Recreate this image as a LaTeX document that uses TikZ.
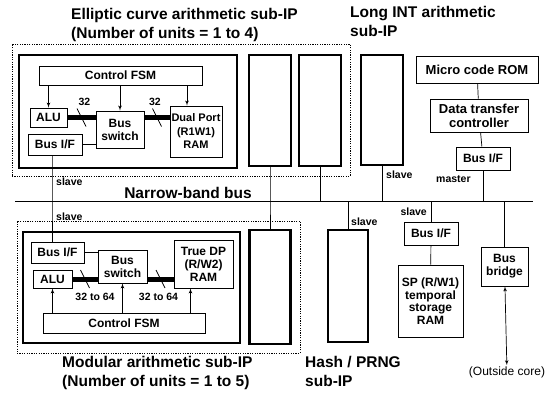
\documentclass[tikz,border=0pt]{standalone}
\usepackage{fontspec}
\setmainfont{Liberation Sans}
\usetikzlibrary{arrows, fit, calc}

\begin{document}
\begin{tikzpicture} [
    x=1pt, y=-1pt,
    font=\bfseries,
    unit/.style={rectangle, draw, line width=2.2pt, inner sep=0pt},
    block/.style={rectangle, draw, line width=0.8pt, fill=white, align=center, inner sep=0pt, font=\fontsize{12}{13}\selectfont\bfseries},
    group/.style={rectangle, draw, dash pattern=on 1.2pt off 1.2pt, line width=0.8pt, inner sep=0pt},
    wire/.style={draw, line width=0.7pt},
    ctl/.style={draw, -latex', line width=0.7pt},
    databus/.style={draw, line width=5pt},
    tick/.style={draw, line width=0.7pt},
    title/.style={align=left, anchor=north west, inner sep=0pt, font=\fontsize{15.5}{19}\selectfont\bfseries},
    anno/.style={inner sep=1pt, font=\fontsize{10.5}{11}\selectfont\bfseries}
]
    \useasboundingbox (0,0) rectangle (558,392);

    % Titles
    \node[title] (ectitle) at (71,8) {Elliptic curve arithmetic sub-IP\\(Number of units = 1 to 4)};
    \node[title] (linttitle) at (350,6) {Long INT arithmetic\\sub-IP};
    \node[title] (modtitle) at (62,356) {Modular arithmetic sub-IP\\(Number of units = 1 to 5)};
    \node[title] (hashtitle) at (305,356) {Hash / PRNG\\sub-IP};

    % Elliptic curve sub-IP
    \node[group, minimum width=338pt, minimum height=132pt] (ecgroup) at (181,110) {};
    \node[unit, minimum width=218pt, minimum height=113pt] (ecunit) at (128,111.5) {};
    \node[block, minimum width=163pt, minimum height=19pt] (ecfsm) at (120.5,75.5) {Control FSM};
    \node[block, minimum width=37pt, minimum height=19pt] (ecalu) at (48.5,117.5) {ALU};
    \node[block, minimum width=48pt, minimum height=37pt] (ecsw) at (120,129.5) {Bus\\switch};
    \node[block, minimum width=52pt, minimum height=51pt, font=\fontsize{11}{13.5}\selectfont\bfseries] (ecram) at (196,131.5) {Dual Port\\(R1W1)\\RAM};
    \node[block, minimum width=54pt, minimum height=21pt] (ecbif) at (55,144.5) {Bus I/F};
    \node[unit, minimum width=42pt, minimum height=111pt] (ecunit2) at (270,110.5) {};
    \node[unit, minimum width=42pt, minimum height=111pt] (ecunit3) at (320,110.5) {};

    % Long INT sub-IP and master side
    \node[unit, minimum width=42pt, minimum height=110pt] (lint) at (382,110) {};
    \node[block, minimum width=122pt, minimum height=27pt, font=\fontsize{13}{14}\selectfont\bfseries] (rom) at (477,69.5) {Micro code ROM};
    \node[block, minimum width=98pt, minimum height=33pt, font=\fontsize{13}{14}\selectfont\bfseries] (dtc) at (479,115.5) {Data transfer\\controller};
    \node[block, minimum width=54pt, minimum height=23pt] (mbif) at (483,158.5) {Bus I/F};

    % Narrow-band bus
    \coordinate (busL) at (15,201);
    \coordinate (busR) at (533,201);
    \coordinate (tapec) at (52,201);
    \node[anchor=base, inner sep=0pt, font=\fontsize{15.5}{19}\selectfont\bfseries] (busname) at (188,198) {Narrow-band bus};

    % Modular sub-IP
    \node[group, minimum width=283pt, minimum height=132pt] (modgroup) at (158.5,287) {};
    \node[unit, minimum width=217pt, minimum height=111pt] (modunit) at (131.5,287.5) {};
    \node[block, minimum width=53pt, minimum height=21pt] (modbif) at (57.5,252.5) {Bus I/F};
    \node[block, minimum width=39pt, minimum height=18pt] (modalu) at (52.5,279) {ALU};
    \node[block, minimum width=49pt, minimum height=33pt] (modsw) at (122.5,266.5) {Bus\\switch};
    \node[block, minimum width=59pt, minimum height=48pt] (modram) at (203.5,264) {True DP\\(R/W2)\\RAM};
    \node[block, minimum width=162pt, minimum height=20pt] (modfsm) at (124,323) {Control FSM};
    \node[unit, minimum width=41pt, minimum height=114pt] (modunit2) at (270,287) {};

    % Hash, SP RAM, bridge
    \node[unit, minimum width=40pt, minimum height=112pt] (hash) at (348,286) {};
    \node[block, minimum width=54pt, minimum height=23pt] (spbif) at (431,233.5) {Bus I/F};
    \node[block, minimum width=65pt, minimum height=72pt, font=\fontsize{12}{12.5}\selectfont\bfseries] (spram) at (430.5,301) {SP (R/W1)\\temporal\\storage\\RAM};
    \node[block, minimum width=47pt, minimum height=39pt] (bridge) at (504.5,266.5) {Bus\\bridge};
    \node[inner sep=1pt, font=\fontsize{12}{13}\selectfont\mdseries] (outside) at (507,372) {(Outside core)};

    % Bus labels
    \node[anno, anchor=west] (ecslave) at (55,182) {slave};
    \node[anno, anchor=west] (modslave) at (55,217) {slave};
    \node[anno, anchor=west] (lintslave) at (385,175) {slave};
    \node[anno, anchor=west] (hashslave) at (350,222) {slave};
    \node[anno, anchor=east] (spslave) at (428,212) {slave};
    \node[anno, anchor=west] (master) at (435,179) {master};

    % Data paths inside the units
    \draw[databus] (ecalu.east) -- (ecalu.east -| ecsw.west);
    \draw[databus] (ecsw.east |- ecalu.east) -- (ecalu.east -| ecram.west);
    \draw[databus] (modalu.east) -- (modalu.east -| modsw.west);
    \draw[databus] (modsw.east |- modalu.east) -- (modalu.east -| modram.west);

    \coordinate (ect1) at ($(ecalu.east)!0.5!(ecalu.east -| ecsw.west)$);
    \coordinate (ect2) at ($(ecsw.east |- ecalu.east)!0.5!(ecalu.east -| ecram.west)$);
    \coordinate (modt1) at ($(modalu.east)!0.5!(modalu.east -| modsw.west)$);
    \coordinate (modt2) at ($(modsw.east |- modalu.east)!0.5!(modalu.east -| modram.west)$);
    \foreach \t in {ect1, ect2, modt1, modt2}
        \draw[tick] ($(\t)+(-4.5,-9)$) -- ($(\t)+(4.5,9)$);
    \node[anno] (ecw1) at ($(ect1)+(3,-16)$) {32};
    \node[anno] (ecw2) at ($(ect2)+(-2,-16)$) {32};
    \node[anno] (modw1) at ($(modt1)+(10,18)$) {32 to 64};
    \node[anno] (modw2) at ($(modt2)+(-2,18)$) {32 to 64};

    % Control lines
    \coordinate (ecramin) at ($(ecram.north)+(-9,0)$);
    \coordinate (modramin) at ($(modram.south)+(-13,0)$);
    \draw[ctl] (ecalu.north |- ecfsm.south) -- (ecalu.north);
    \draw[ctl] (ecsw.north |- ecfsm.south) -- (ecsw.north);
    \draw[ctl] (ecramin |- ecfsm.south) -- (ecramin);
    \draw[ctl] (modalu.south |- modfsm.north) -- (modalu.south);
    \draw[ctl] (modsw.south |- modfsm.north) -- (modsw.south);
    \draw[ctl] (modramin |- modfsm.north) -- (modramin);
    \draw[wire] (ecbif.east) -- (ecbif.east -| ecsw.west);
    \draw[wire] (modbif.east) -- (modbif.east -| modsw.west);

    % Bus and taps
    \draw[wire] (busL) -- (busR);
    \draw[wire] (ecbif.south -| tapec) -- (tapec) -- (modbif.north -| tapec);
    \draw[wire] (ecunit2.south) -- (ecunit2.south |- busL) -- (modunit2.north);
    \draw[wire] (ecunit3.south) -- (ecunit3.south |- busL);
    \draw[wire] (lint.south) -- (lint.south |- busL);
    \draw[wire] (hash.north |- busL) -- (hash.north);
    \draw[wire] (spbif.north |- busL) -- (spbif.north);
    \draw[wire] (spbif) -- (spram);
    \draw[wire] (rom) -- (dtc);
    \draw[wire] (dtc) -- (mbif);
    \draw[wire] (mbif.south) -- (mbif.south |- busL);
    \draw[wire] (bridge.north |- busL) -- (bridge.north);
    \draw[latex'-latex', line width=0.7pt] (bridge) -- (outside);

\end{tikzpicture}
\end{document}
